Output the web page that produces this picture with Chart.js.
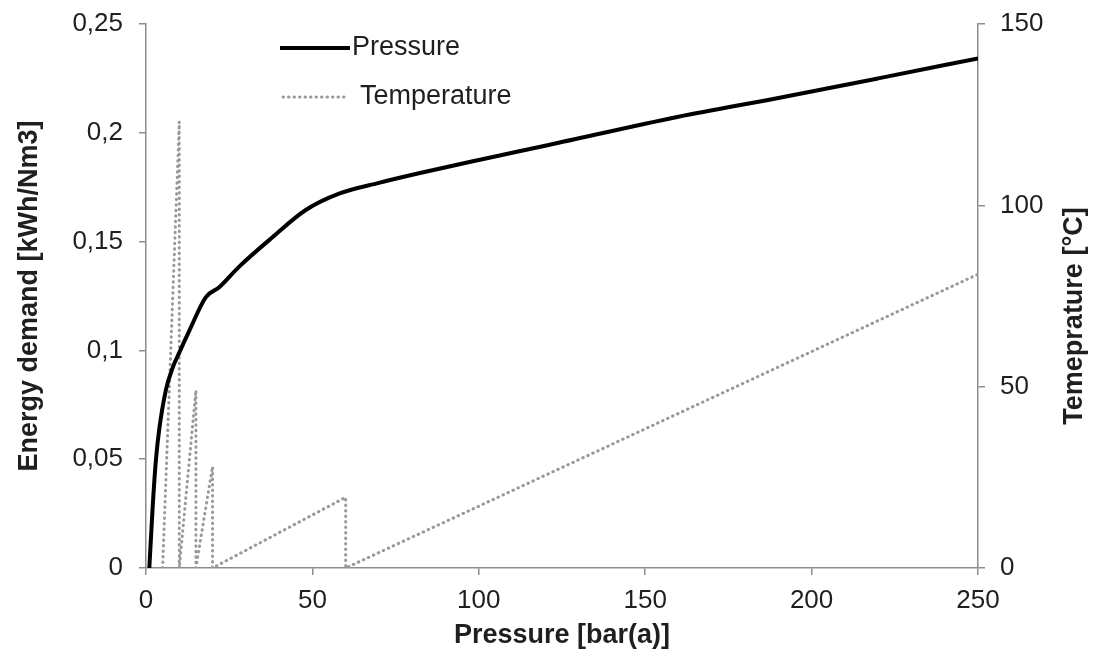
<!DOCTYPE html>
<html>
<head>
<meta charset="utf-8">
<script src="https://cdn.jsdelivr.net/npm/chart.js@4"></script>
<style>
  html, body { margin: 0; padding: 0; background: #fff; }
  #wrap { width: 1099px; height: 657px; }
</style>
</head>
<body>
<div id="wrap"><canvas id="compression-chart" width="1099" height="657"></canvas></div>
<script>
// energy demand of compression vs. end pressure
const pressureBar = [1, 2, 3, 4, 6, 8, 10, 13, 18, 22, 28, 38, 48, 58, 70, 82, 100, 121, 160, 190, 220, 250];
const energyDemand = [0, 0.028, 0.05, 0.064, 0.082, 0.092, 0.099, 0.109, 0.1245, 0.129, 0.1385, 0.152, 0.1645, 0.172, 0.177, 0.1814, 0.1875, 0.1944, 0.2074, 0.216, 0.225, 0.2342];

// outlet temperature per stage (sawtooth)
const tempPressure = [5, 10, 10, 15, 15, 20, 20, 60, 60, 250];
const temperature = [0, 123, 0, 49, 0, 28, 0, 19.5, 0, 81];

const xTicks = [0, 50, 100, 150, 200, 250];
const leftTicks = [0, 0.05, 0.1, 0.15, 0.2, 0.25];
const rightTicks = [0, 50, 100, 150];

const rightTitle = 'Temeprature [°C]';

const fontFamily = 'Arial, "Liberation Sans", sans-serif';
const axisGray = '#8c8c8c';
const textColor = '#1f1f1f';

function toPoints(xs, ys) {
    return xs.map(function(x, i) { return {x: x, y: ys[i]}; });
}

// legend drawn inside the plot area, Excel style
const insideLegend = {
    id: 'insideLegend',
    afterDraw(chart) {
        const ctx = chart.ctx;
        const rows = [48, 97];
        ctx.save();
        chart.data.datasets.forEach(function(ds, i) {
            const y = rows[i];
            ctx.beginPath();
            ctx.strokeStyle = ds.borderColor;
            ctx.lineWidth = ds.borderWidth;
            ctx.lineCap = ds.borderCapStyle || 'butt';
            ctx.setLineDash(ds.borderDash || []);
            ctx.moveTo(i === 0 ? 280 : 283, y);
            ctx.lineTo(i === 0 ? 350 : 346, y);
            ctx.stroke();
            ctx.setLineDash([]);
            ctx.fillStyle = textColor;
            ctx.font = '27px ' + fontFamily;
            ctx.textBaseline = 'middle';
            ctx.fillText(ds.label, i === 0 ? 352 : 360, y);
        });
        ctx.restore();
    }
};

// right axis title reads bottom-to-top like the left one
const rightAxisTitle = {
    id: 'rightAxisTitle',
    afterDraw(chart) {
        const ctx = chart.ctx;
        ctx.save();
        ctx.translate(1075, 316);
        ctx.rotate(-Math.PI / 2);
        ctx.fillStyle = textColor;
        ctx.font = 'bold 27px ' + fontFamily;
        ctx.textAlign = 'center';
        ctx.textBaseline = 'middle';
        ctx.fillText(rightTitle, 0, 0);
        ctx.restore();
    }
};

function axisGrid() {
    return {
        display: true,
        drawOnChartArea: false,
        drawTicks: true,
        tickLength: 7,
        color: axisGray,
        lineWidth: 1.5
    };
}

// fixed box sizes so the plot area lands where the original has it
function fixWidth(w) {
    return function(scale) {
        scale.width = w;
        scale.paddingTop = 0;
        scale.paddingBottom = 0;
    };
}

const canvas = document.getElementById('compression-chart');
const chart = new Chart(canvas, {
    type: 'scatter',
    data: {
        datasets: [
            {
                label: 'Pressure',
                data: toPoints(pressureBar, energyDemand),
                yAxisID: 'y',
                showLine: true,
                borderColor: '#000000',
                backgroundColor: '#000000',
                borderWidth: 4,
                pointRadius: 0,
                cubicInterpolationMode: 'monotone',
                tension: 0.4
            },
            {
                label: 'Temperature',
                data: toPoints(tempPressure, temperature),
                yAxisID: 'y1',
                showLine: true,
                borderColor: '#999999',
                backgroundColor: '#999999',
                borderWidth: 3,
                borderDash: [0.5, 5],
                borderCapStyle: 'round',
                pointRadius: 0,
                tension: 0
            }
        ]
    },
    options: {
        responsive: false,
        animation: false,
        layout: { padding: { top: 24, left: 0, right: 0, bottom: 0 } },
        plugins: {
            legend: { display: false },
            tooltip: { enabled: false }
        },
        scales: {
            x: {
                type: 'linear',
                min: 0,
                max: 250,
                afterBuildTicks: function(scale) {
                    scale.ticks = xTicks.map(function(v) { return {value: v}; });
                },
                afterFit: function(scale) {
                    scale.height = 89;
                    scale.paddingLeft = 0;
                    scale.paddingRight = 0;
                },
                grid: axisGrid(),
                border: { display: true, color: axisGray, width: 1.5 },
                ticks: {
                    color: textColor,
                    font: { family: fontFamily, size: 26 },
                    padding: 10,
                    maxRotation: 0
                },
                title: {
                    display: true,
                    text: 'Pressure [bar(a)]',
                    color: textColor,
                    font: { family: fontFamily, size: 27, weight: 'bold' },
                    padding: { top: 0, bottom: 5 }
                }
            },
            y: {
                type: 'linear',
                position: 'left',
                min: 0,
                max: 0.25,
                afterBuildTicks: function(scale) {
                    scale.ticks = leftTicks.map(function(v) { return {value: v}; });
                },
                afterFit: fixWidth(146),
                grid: axisGrid(),
                border: { display: true, color: axisGray, width: 1.5 },
                ticks: {
                    color: textColor,
                    font: { family: fontFamily, size: 26 },
                    padding: 16,
                    callback: function(value) {
                        return String(+value.toFixed(2)).replace('.', ',');
                    }
                },
                title: {
                    display: true,
                    text: 'Energy demand [kWh/Nm3]',
                    color: textColor,
                    font: { family: fontFamily, size: 27, weight: 'bold' },
                    padding: { top: 13, bottom: 0 }
                }
            },
            y1: {
                type: 'linear',
                position: 'right',
                min: 0,
                max: 150,
                afterBuildTicks: function(scale) {
                    scale.ticks = rightTicks.map(function(v) { return {value: v}; });
                },
                afterFit: fixWidth(121),
                grid: axisGrid(),
                border: { display: true, color: axisGray, width: 1.5 },
                ticks: {
                    color: textColor,
                    font: { family: fontFamily, size: 26 },
                    padding: 15
                },
                title: { display: false }
            }
        }
    },
    plugins: [insideLegend, rightAxisTitle]
});
</script>
</body>
</html>
